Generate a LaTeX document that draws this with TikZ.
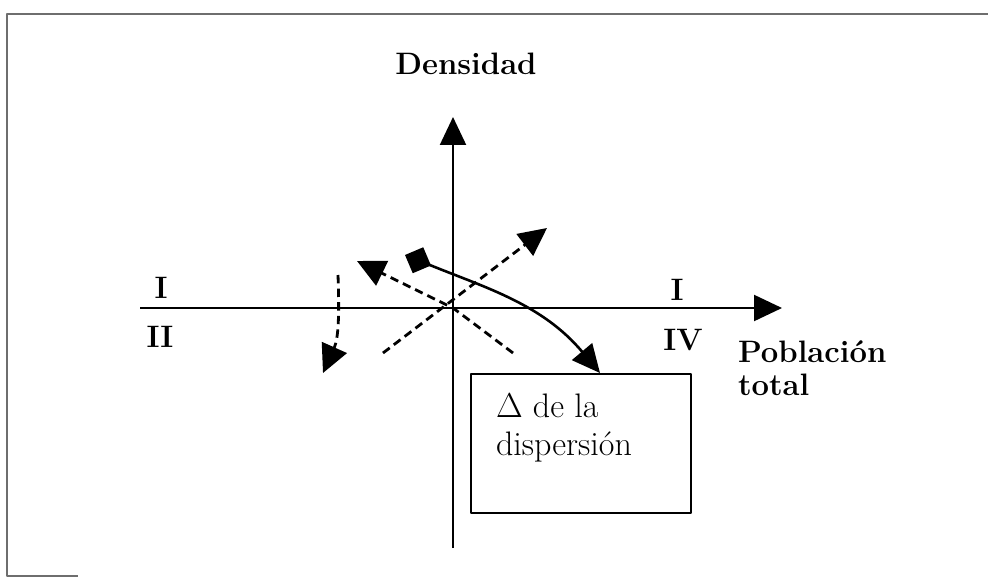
\documentclass[tikz,border=0pt]{standalone}
\usetikzlibrary{arrows.meta,positioning}
\definecolor{fg}{RGB}{0,0,0}
\definecolor{marco}{RGB}{110,110,110}
\tikzset{
  every picture/.style={fg, line width=1pt, line join=round},
  % Linien
  eje/.style={line width=1.1pt, -{Triangle[length=14pt,width=13pt]}},
  tray/.style={line width=1.4pt, dash pattern=on 4.2pt off 2.6pt},
  flecha/.style={-{Triangle[length=14pt,width=13.5pt]}},
  marcolin/.style={marco, line width=0.6pt},
  % Texte
  cuad/.style={font=\fontsize{15.5}{18}\selectfont\bfseries, inner sep=0pt},
  caja/.style={draw, line width=1.1pt, minimum width=110pt, minimum height=69.5pt, inner sep=0pt},
}

\begin{document}
\begin{tikzpicture}[x=0.5pt, y=-0.5pt]
  \useasboundingbox (0,0) rectangle (988,577);
  % Rahmen
  \draw[marcolin] (988,14) -- (7,14) -- (7,576) -- (78,576);
  % Achsen
  \coordinate (O) at (453,308);
  \coordinate (xa) at (140,308);
  \coordinate (xb) at (782,308);
  \coordinate (ya) at (453,548);
  \coordinate (yb) at (453,117);
  \draw[eje] (xa) -- (xb);
  \draw[eje] (ya) -- (yb);
  \node[cuad, anchor=base] (dens) at (466,75) {Densidad};
  \node[cuad, anchor=base west] (pobl) at (737,362) {Población};
  \node[cuad, anchor=base west] (tot) at (737,395) {total};
  % Quadranten
  \node[cuad, anchor=base] (q1l) at (161,298) {I};
  \node[cuad, anchor=base] (q2) at (160,347) {II};
  \node[cuad, anchor=base] (q1r) at (677,300) {I};
  \node[cuad, anchor=base] (q4) at (683,350) {IV};
  % Kasten
  \node[caja, anchor=north west] (disp) at (470,373) {};
  \node[anchor=base west, inner sep=0pt, font=\fontsize{17}{19}\selectfont] (dispTxt) at (495,417) {$\Delta$ de la};
  \node[anchor=base west, inner sep=0pt, font=\fontsize{17}{19}\selectfont] (dispTxt2) at (495,455) {dispersión};
  % gestrichelte Pfeile
  \coordinate (ul) at (357,261);
  \coordinate (ur) at (547,228);
  \coordinate (ll) at (383,353);
  \coordinate (lr) at (513,353);
  \coordinate (va) at (338,275);
  \coordinate (vb) at (323,373);
  \draw[tray, flecha] (ll) -- (ur);
  \draw[tray, flecha] (lr) -- (O) -- (ul);
  \draw[tray, flecha] (va) to[out=-88, in=66] (vb);
  % Pfeil zum Kasten
  \coordinate (rs) at (405,255);
  \coordinate (rt) at (600,373);
  \draw[line width=1.3pt, {Diamond[length=14pt,width=14pt]}-{Triangle[length=14pt,width=13pt]}]
    (rs) to[out=-22, in=130] (rt);
\end{tikzpicture}
\end{document}
